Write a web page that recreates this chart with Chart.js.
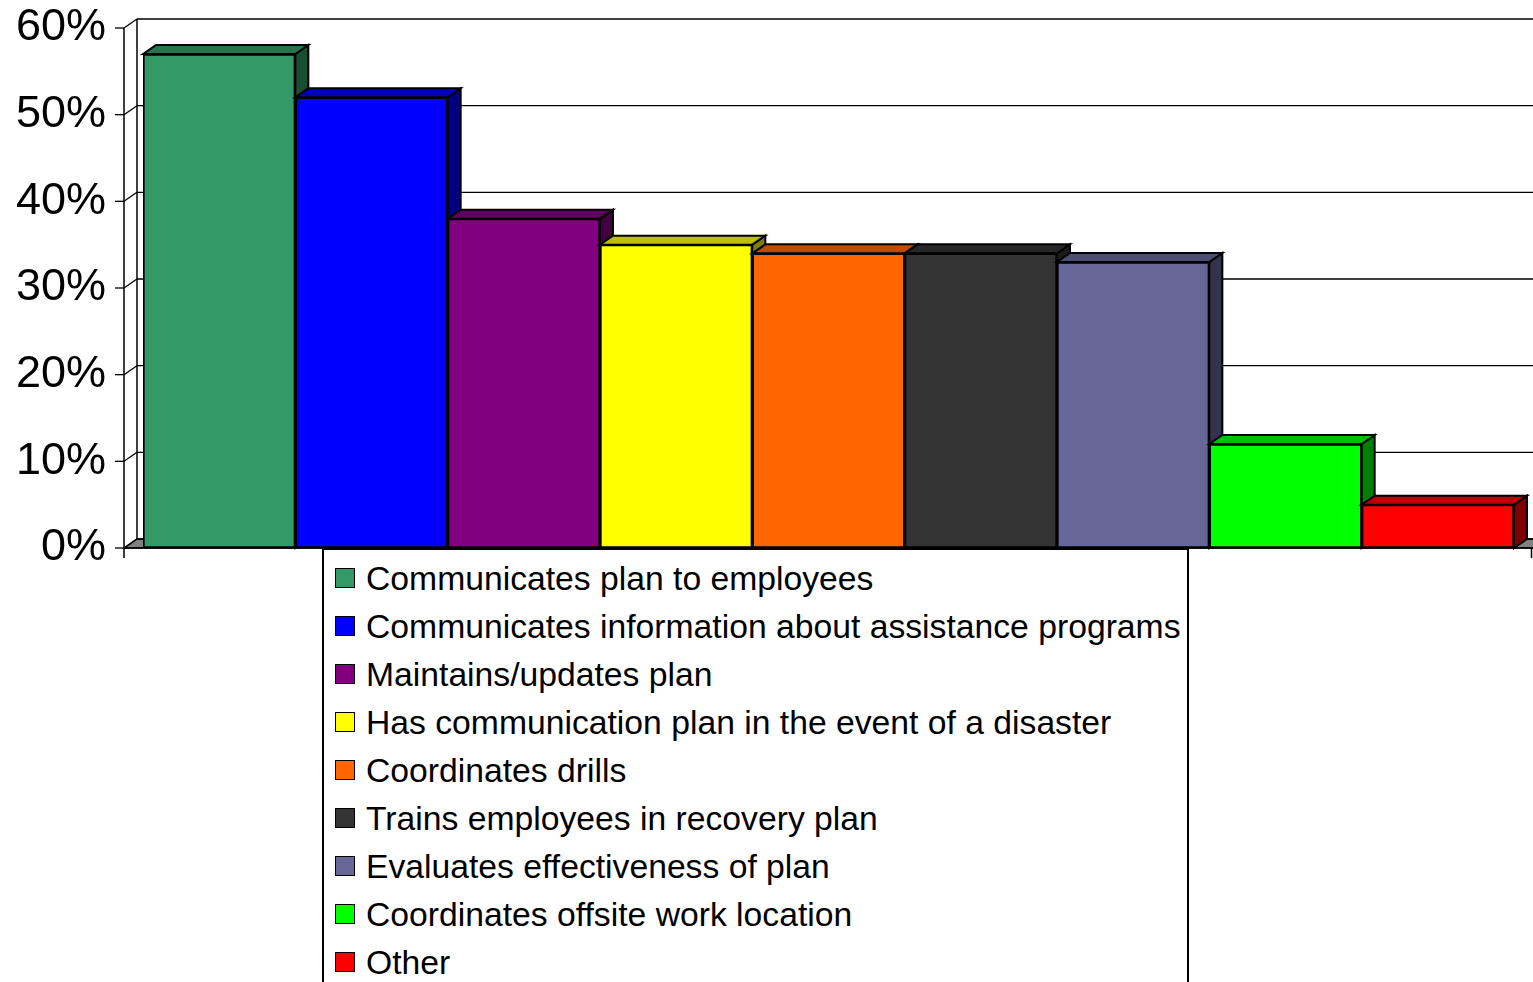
<!DOCTYPE html>
<html>
<head>
<meta charset="utf-8">
<script src="https://cdn.jsdelivr.net/npm/chart.js@4"></script>
<style>
  html, body { margin: 0; padding: 0; background: #fff; overflow: hidden; }
  #wrap { position: relative; width: 1533px; height: 982px; }
  #legend {
    position: absolute; left: 322px; top: 548px; width: 863px; height: 500px;
    border: 2px solid #000; border-bottom: none; background: #fff;
    font-family: "Liberation Sans", Arial, sans-serif; font-size: 33.7px; color: #000;
    padding-top: 4px; box-sizing: content-box;
  }
  .item { height: 48px; line-height: 48px; position: relative; white-space: nowrap; }
  .sw { position: absolute; left: 11px; top: 14px; width: 18px; height: 18px; border: 1px solid #000; }
  .txt { position: absolute; left: 42px; top: 0; }
</style>
</head>
<body>
<div id="wrap">
  <canvas id="c" width="1533" height="982"></canvas>
  <div id="legend"></div>
</div>
<script>
const categories = [
  "Communicates plan to employees",
  "Communicates information about assistance programs",
  "Maintains/updates plan",
  "Has communication plan in the event of a disaster",
  "Coordinates drills",
  "Trains employees in recovery plan",
  "Evaluates effectiveness of plan",
  "Coordinates offsite work location",
  "Other"
];
const values = [57, 52, 38, 35, 34, 34, 33, 12, 5];
const colors = ["#339966", "#0000FF", "#800080", "#FFFF00", "#FF6600", "#333333", "#666699", "#00FF00", "#FF0000"];
const yTicks = [0, 10, 20, 30, 40, 50, 60];

const DX = 13, DY = -9;

function shade(hex, f) {
  const n = parseInt(hex.slice(1), 16);
  const r = Math.round(((n >> 16) & 255) * f);
  const g = Math.round(((n >> 8) & 255) * f);
  const b = Math.round((n & 255) * f);
  return "rgb(" + r + "," + g + "," + b + ")";
}

function poly(ctx, pts, fill) {
  ctx.beginPath();
  ctx.moveTo(pts[0][0], pts[0][1]);
  for (let i = 1; i < pts.length; i++) ctx.lineTo(pts[i][0], pts[i][1]);
  ctx.closePath();
  if (fill) { ctx.fillStyle = fill; ctx.fill(); }
  ctx.stroke();
}

const frame3d = {
  id: 'frame3d',
  beforeDatasetsDraw(chart) {
    const ctx = chart.ctx;
    const ys = chart.scales.y;
    const area = chart.chartArea;
    const axisX = area.left - 19;
    const wallX = axisX + DX;
    const right = chart.width;
    const y0 = ys.getPixelForValue(0);
    const yTop = ys.getPixelForValue(yTicks[yTicks.length - 1]);
    ctx.save();
    ctx.strokeStyle = "#000";
    ctx.lineWidth = 1.5;
    // floor
    poly(ctx, [[axisX, y0], [wallX, y0 + DY], [right + 2, y0 + DY], [right + 2, y0]], "#808080");
    // back wall gridlines
    ctx.lineWidth = 1.3;
    yTicks.forEach(v => {
      const y = ys.getPixelForValue(v);
      ctx.beginPath();
      ctx.moveTo(wallX, y + DY); ctx.lineTo(right, y + DY);
      ctx.stroke();
      ctx.beginPath();
      ctx.moveTo(axisX, y); ctx.lineTo(wallX, y + DY);
      ctx.stroke();
      ctx.beginPath();
      ctx.moveTo(axisX - 9, y); ctx.lineTo(axisX, y);
      ctx.stroke();
    });
    ctx.lineWidth = 1.5;
    ctx.beginPath();
    ctx.moveTo(wallX, yTop + DY); ctx.lineTo(wallX, y0 + DY);
    ctx.stroke();
    ctx.beginPath();
    ctx.moveTo(axisX, yTop); ctx.lineTo(axisX, y0 + 10);
    ctx.stroke();
    ctx.beginPath();
    ctx.moveTo(axisX, y0); ctx.lineTo(right, y0);
    ctx.stroke();
    ctx.beginPath();
    ctx.moveTo(right - 1.5, y0); ctx.lineTo(right - 1.5, y0 + 10);
    ctx.stroke();
    ctx.restore();
  },
  afterDatasetsDraw(chart) {
    const ctx = chart.ctx;
    const meta = chart.getDatasetMeta(0);
    const n = meta.data.length;
    ctx.save();
    ctx.strokeStyle = "#000";
    ctx.lineWidth = 2;
    ctx.lineJoin = "miter";
    for (let i = 0; i < n; i++) {
      const el = meta.data[i];
      const p = el.getProps(['x', 'y', 'base', 'width'], true);
      const L = p.x - p.width / 2, R = p.x + p.width / 2, T = p.y, B = p.base;
      const c = colors[i];
      poly(ctx, [[R, T], [R + DX, T + DY], [R + DX, B + DY], [R, B]], shade(c, 0.5));
      poly(ctx, [[L, T], [L + DX, T + DY], [R + DX, T + DY], [R, T]], shade(c, 0.75));
      if (i + 1 < n) {
        meta.data[i + 1].draw(ctx, chart.chartArea);
      }
    }
    ctx.restore();
  }
};

const chart = new Chart(document.getElementById('c'), {
  type: 'bar',
  data: {
    labels: categories,
    datasets: [{
      data: values,
      backgroundColor: colors,
      borderColor: "#000",
      borderWidth: 2,
      borderSkipped: false,
      barPercentage: 1,
      categoryPercentage: 1
    }]
  },
  options: {
    responsive: false,
    animation: false,
    devicePixelRatio: 1,
    layout: { padding: { top: 28, bottom: 982 - 548, right: 19, left: 0 } },
    plugins: { legend: { display: false }, tooltip: { enabled: false } },
    scales: {
      x: { display: false },
      y: {
        min: 0, max: 60,
        afterFit(scale) { scale.width = 143; scale.paddingTop = 0; scale.paddingBottom = 0; },
        afterBuildTicks(scale) { scale.ticks = yTicks.map(v => ({ value: v })); },
        ticks: {
          callback: v => v + "%",
          color: "#000",
          padding: 37,
          font: { family: "Liberation Sans, Arial, sans-serif", size: 45 }
        },
        grid: { display: false, drawTicks: false },
        border: { display: false }
      }
    }
  },
  plugins: [frame3d]
});

const lg = document.getElementById('legend');
categories.forEach((name, i) => {
  const row = document.createElement('div');
  row.className = 'item';
  const sw = document.createElement('span');
  sw.className = 'sw';
  sw.style.background = colors[i];
  const t = document.createElement('span');
  t.className = 'txt';
  t.textContent = name;
  row.appendChild(sw); row.appendChild(t);
  lg.appendChild(row);
});
</script>
</body>
</html>
